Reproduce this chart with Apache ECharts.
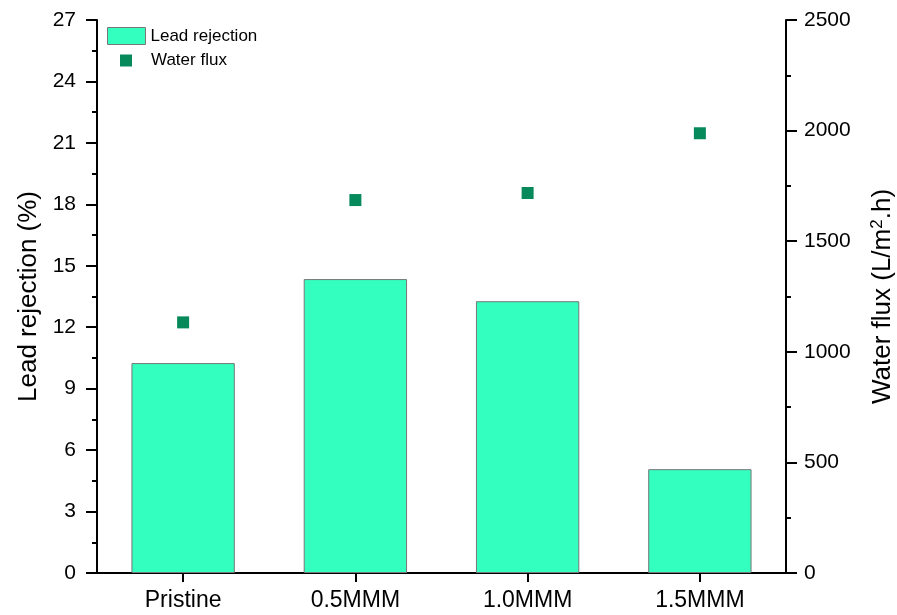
<!DOCTYPE html>
<html><head><meta charset="utf-8">
<script src="https://cdn.jsdelivr.net/npm/echarts@6/dist/echarts.min.js"></script>
<style>html,body{margin:0;padding:0;background:#fff}#c{width:897px;height:615px}</style>
</head><body><div id="c"></div>
<script>
const categories = ['Pristine', '0.5MMM', '1.0MMM', '1.5MMM'];
const leadRejection = [10.25, 14.35, 13.27, 5.07];
const waterFlux = [1133, 1686, 1718, 1988];
const leftTicks = {min: 0, max: 27, interval: 3};
const rightTicks = {min: 0, max: 2500, interval: 500};

const font = 'Liberation Sans, Arial, sans-serif';
const chart = echarts.init(document.getElementById('c'));
const axisLine = {show: true, lineStyle: {color: '#000', width: 2}};
const legendText = {fontFamily: font, fontSize: 17, color: '#000'};
chart.setOption({
  animation: false,
  backgroundColor: '#fff',
  grid: {left: 97, right: 111, top: 20, bottom: 42, outerBoundsMode: 'none', containLabel: false},
  legend: [{
    left: 107, top: 27, padding: 0, itemWidth: 38, itemHeight: 17,
    textStyle: legendText,
    data: [{name: 'Lead rejection', icon: 'rect', itemStyle: {color: '#33ffbf', borderColor: '#777', borderWidth: 1}}]
  }, {
    left: 120, top: 52, padding: 0, itemWidth: 12, itemHeight: 12,
    textStyle: Object.assign({padding: [0, 0, 0, 14]}, legendText),
    data: [{name: 'Water flux', icon: 'rect', itemStyle: {color: '#068a5c'}}]
  }],
  xAxis: [{
    type: 'category', data: categories,
    axisLine: axisLine,
    axisTick: {show: true, alignWithLabel: true, length: 9, lineStyle: {color: '#000', width: 2}},
    axisLabel: {fontFamily: font, fontSize: 23, color: '#000', margin: 16}
  }, {
    type: 'category', data: categories, position: 'top',
    axisLine: axisLine, axisTick: {show: false}, axisLabel: {show: false}
  }],
  yAxis: [{
    type: 'value', min: leftTicks.min, max: leftTicks.max, interval: leftTicks.interval,
    name: 'Lead rejection (%)', nameLocation: 'middle', nameGap: 55,
    nameTextStyle: {fontFamily: font, fontSize: 26, color: '#000'},
    axisLine: axisLine,
    axisTick: {show: true, length: 11, lineStyle: {color: '#000', width: 2}},
    minorTick: {show: true, splitNumber: 2, length: 5, lineStyle: {color: '#000', width: 2}},
    axisLabel: {fontFamily: font, fontSize: 21, color: '#000', margin: 21},
    splitLine: {show: false}
  }, {
    type: 'value', min: rightTicks.min, max: rightTicks.max, interval: rightTicks.interval,
    name: 'Water flux (L/m{sup|2}.h)', nameLocation: 'middle', nameGap: 82, nameRotate: 90,
    nameTextStyle: {fontFamily: font, fontSize: 26, color: '#000', lineHeight: 30,
      rich: {sup: {fontFamily: font, fontSize: 17, color: '#000', lineHeight: 30, padding: [0, 0, 12, 0]}}},
    axisLine: axisLine,
    axisTick: {show: true, length: 11, lineStyle: {color: '#000', width: 2}},
    minorTick: {show: true, splitNumber: 2, length: 5, lineStyle: {color: '#000', width: 2}},
    axisLabel: {fontFamily: font, fontSize: 21, color: '#000', margin: 18, formatter: v => String(v)},
    splitLine: {show: false}
  }],
  series: [{
    name: 'Lead rejection', type: 'bar', data: leadRejection, barWidth: '60%',
    itemStyle: {color: '#33ffbf', borderColor: '#777', borderWidth: 1}
  }, {
    name: 'Water flux', type: 'scatter', yAxisIndex: 1, data: waterFlux,
    symbol: 'rect', symbolSize: 12,
    itemStyle: {color: '#068a5c', opacity: 1}
  }]
});
</script></body></html>
